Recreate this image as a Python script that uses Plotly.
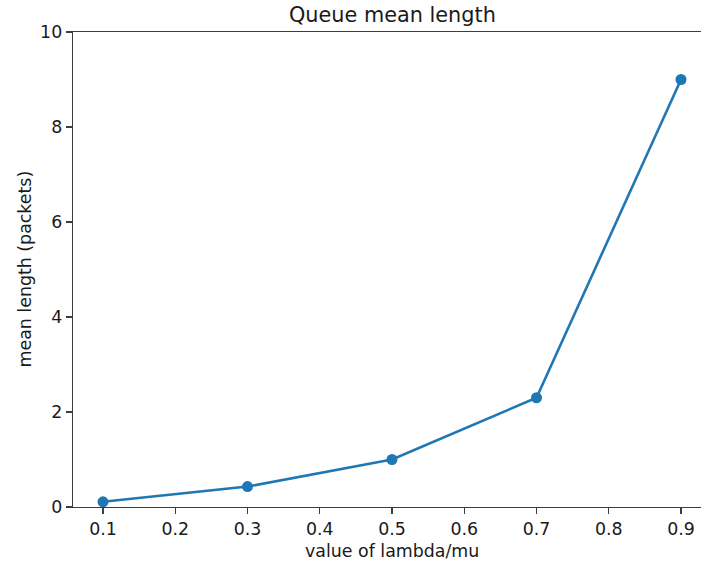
import plotly.graph_objects as go

# Data
lambda_mu = [0.1, 0.3, 0.5, 0.7, 0.9]
mean_length = [0.11, 0.43, 1.0, 2.3, 9.0]

x_ticks = [0.1, 0.2, 0.3, 0.4, 0.5, 0.6, 0.7, 0.8, 0.9]
y_ticks = [0, 2, 4, 6, 8, 10]

title_text = "Queue mean length"
x_label = "value of lambda/mu"
y_label = "mean length (packets)"

FONT = "DejaVu Sans"
SPINE = "#3d3d3d"

W, H = 701, 563
L, R, T = 73, 0, 32
PLOT_H = 475
B = H - T - PLOT_H

fig = go.Figure()
fig.add_trace(go.Scatter(
    x=lambda_mu, y=mean_length,
    mode="lines+markers",
    line=dict(color="#1f77b4", width=2.6),
    marker=dict(color="#1f77b4", size=11),
    showlegend=False,
    cliponaxis=False,
))

plot_w = W - L - R
px_per_unit = 722.5  # pixels per 1.0 of x
x0 = 0.1 - 30 / px_per_unit
x1 = x0 + plot_w / px_per_unit

axis_common = dict(
    showgrid=False, zeroline=False,
    showline=True, linecolor=SPINE, linewidth=1.3,
    ticks="outside", ticklen=6, tickwidth=1.3, tickcolor=SPINE,
    tickfont=dict(family=FONT, size=17.4, color="#1a1a1a"),
)

fig.update_layout(
    width=W, height=H,
    margin=dict(l=L, r=R, t=T, b=B, autoexpand=False),
    plot_bgcolor="white", paper_bgcolor="white",
    xaxis=dict(range=[x0, x1], tickvals=x_ticks,
               ticktext=[f"{v:.1f}" for v in x_ticks],
               mirror=True, automargin=False, **axis_common),
    yaxis=dict(range=[0, 10], tickvals=y_ticks,
               ticktext=[str(v) for v in y_ticks], automargin=False,
               **axis_common),
    font=dict(family=FONT, color="#1a1a1a"),
)

cx = (392 - L) / plot_w
fig.add_annotation(text=title_text, xref="paper", yref="paper",
                   x=cx, y=1, yanchor="bottom", yshift=3, showarrow=False,
                   font=dict(family=FONT, size=20.8, color="#1a1a1a"))
fig.add_annotation(text=x_label, xref="paper", yref="paper",
                   x=cx, y=0, yanchor="middle", yshift=-44, showarrow=False,
                   font=dict(family=FONT, size=17.4, color="#1a1a1a"))
fig.add_annotation(text=y_label, xref="paper", yref="paper",
                   x=0, y=0.5, xanchor="center", xshift=-49, textangle=-90,
                   showarrow=False,
                   font=dict(family=FONT, size=17.4, color="#1a1a1a"))

fig.write_html(
    "out.html",
    config={"displayModeBar": False, "staticPlot": True},
    post_script="document.body.style.margin='0px';document.body.style.overflow='hidden';",
)
